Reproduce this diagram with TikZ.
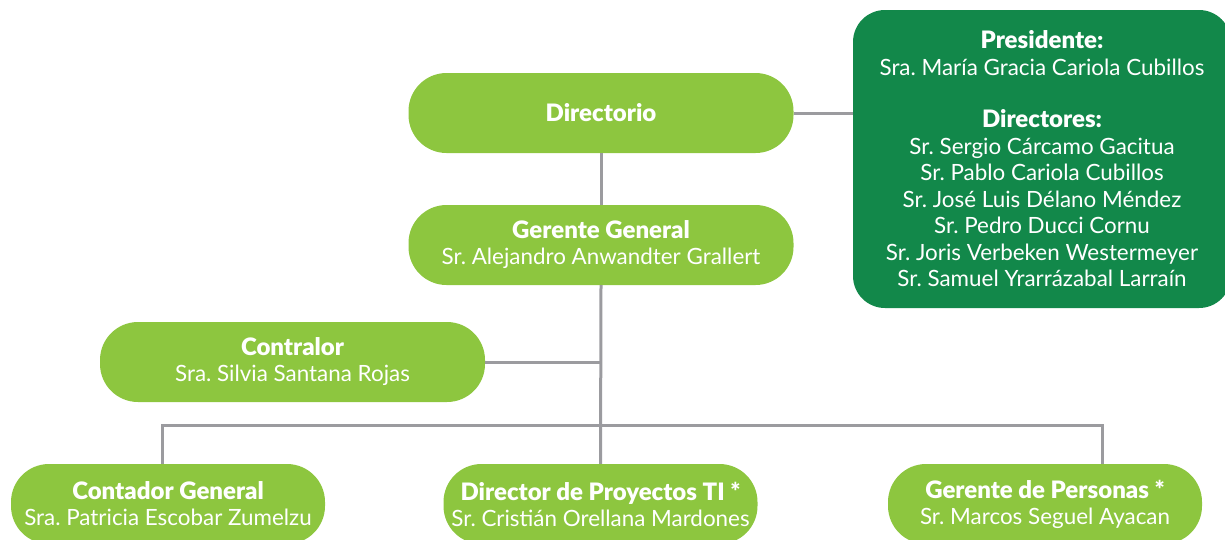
\documentclass[tikz,border=0pt]{standalone}
\usepackage{fontspec}
\setmainfont{Lato}[BoldFont=Lato Black]
\definecolor{leaf}{HTML}{8DC63F}
\definecolor{forest}{HTML}{12884A}
\definecolor{wire}{HTML}{9B9B9F}
\newcommand{\head}[1]{{\fontsize{24}{26}\selectfont\bfseries#1}}

\begin{document}
\frenchspacing
\begin{tikzpicture}[x=1pt,y=-1pt,
    box/.style={fill=leaf,text=white,align=center,rounded corners=38pt,
        minimum width=385pt,minimum height=80pt,inner sep=0pt,
        font=\fontsize{22.4}{26}\selectfont},
    small/.style={box,minimum width=314pt},
    board/.style={fill=forest,text=white,align=center,rounded corners=32pt,
        minimum width=378pt,minimum height=298pt,inner sep=0pt,
        font=\fontsize{22.4}{26.5}\selectfont},
    wire/.style={draw=wire,line width=3pt}]
    \useasboundingbox(0,0)rectangle(1225,539);
    \node[box](dir)at(601,113){\head{Directorio}};
    \node[box](ger)at(601,245){\head{Gerente General}\\Sr. Alejandro Anwandter Grallert};
    \node[board](pres)at(1042,159){\head{Presidente:}\\Sra. María Gracia Cariola Cubillos\\[26pt]
        \head{Directores:}\\Sr. Sergio Cárcamo Gacitua\\Sr. Pablo Cariola Cubillos\\
        Sr. José Luis Délano Méndez\\Sr. Pedro Ducci Cornu\\
        Sr. Joris Verbeken Westermeyer\\Sr. Samuel Yrarrázabal Larraín};
    \node[box](contr)at(292.5,362){\head{Contralor}\\Sra. Silvia Santana Rojas};
    \node[small](cont)at(168,504){\head{Contador General}\\Sra. Patricia Escobar Zumelzu};
    \node[small](proy)at(600.5,504){\head{Director de Proyectos TI *}\\Sr. Cristián Orellana Mardones};
    \node[small](pers)at(1045,504){\head{Gerente de Personas *}\\Sr. Marcos Seguel Ayacan};
    \coordinate(busl)at(162,425);
    \coordinate(busr)at(1102,425);
    \draw[wire](dir.east)--(dir.east-|pres.west);
    \draw[wire](dir.south)--(ger.north);
    \draw[wire](ger.south)--(proy.north);
    \draw[wire](contr.east)--(contr.east-|ger.south);
    \draw[wire](busl|-cont.north)--(busl)--(busr)--(busr|-pers.north);
\end{tikzpicture}
\end{document}
